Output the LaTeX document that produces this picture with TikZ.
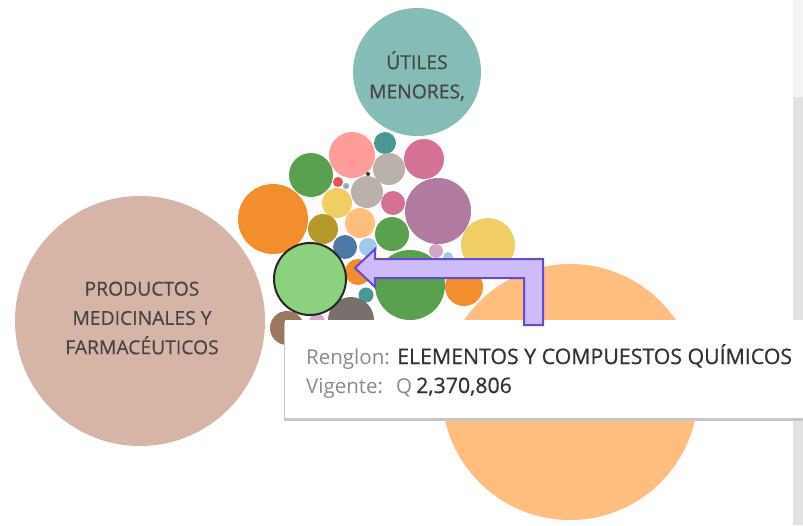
\documentclass[tikz,border=0pt]{standalone}
\usepackage{fontspec}
\setmainfont{Open Sans}
\newfontfamily\semib[FakeBold=0.7]{Open Sans}
\newfontfamily\lblfont[FakeBold=0.4]{Open Sans}
\begin{document}
\begin{tikzpicture}[x=1pt,y=-1pt,
  bub/.style={circle,inner sep=0pt,draw=none,minimum size=#1},
  lbltxt/.style={text=labelgrey,align=center,inner sep=0pt,font=\lblfont\fontsize{19.3}{29.3}\selectfont},
  tipkey/.style={text=keygrey,font=\fontsize{20.5}{24}\selectfont,inner sep=0pt,anchor=base west},
  tipval/.style={text=valdark,font=\semib\fontsize{21.3}{24}\selectfont,inner sep=0pt,anchor=base west},
  arrowshape/.style={fill=arrowfill,draw=arrowline,line width=2pt,line join=miter}]
\definecolor{labelgrey}{HTML}{454545}
\definecolor{keygrey}{HTML}{8A8A8A}
\definecolor{valdark}{HTML}{333333}
\definecolor{arrowfill}{HTML}{CDBBFA}
\definecolor{arrowline}{HTML}{6548D4}
\definecolor{cLtTeal}{HTML}{86BCB6}
\definecolor{cLtBrown}{HTML}{D7B5A6}
\definecolor{cLtOrange}{HTML}{FFBE7D}
\definecolor{cLtGreen}{HTML}{8CD17D}
\definecolor{cGreen}{HTML}{59A14F}
\definecolor{cOrange}{HTML}{F28E2B}
\definecolor{cPink}{HTML}{FF9D9A}
\definecolor{cTeal}{HTML}{499894}
\definecolor{cMagenta}{HTML}{D37295}
\definecolor{cGrey}{HTML}{BAB0AC}
\definecolor{cRed}{HTML}{E15759}
\definecolor{cPurple}{HTML}{B07AA1}
\definecolor{cYellow}{HTML}{F1CE63}
\definecolor{cOlive}{HTML}{B6992D}
\definecolor{cBlue}{HTML}{4E79A7}
\definecolor{cLtBlue}{HTML}{A0CBE8}
\definecolor{cLtPurple}{HTML}{D4A6C8}
\definecolor{cBrown}{HTML}{9D7660}
\definecolor{cDkGrey}{HTML}{79706E}
\definecolor{stripTop}{HTML}{F4F4F4}
\definecolor{stripLow}{HTML}{E2E2E2}
\definecolor{shadowc}{HTML}{C6C6C6}
\useasboundingbox (0,0) rectangle (803,525);
\fill[white] (0,0) rectangle (803,525);
% right strip
\fill[stripTop] (793,0) rectangle (803,97);
\fill[stripLow] (793,97) rectangle (803,525);
% large bubbles
\node[bub=256pt,fill=cLtOrange] (bigorange) at (570,392) {};
\node[bub=250pt,fill=cLtBrown] (prod) at (140,321) {};
\node[lbltxt] (prodlbl) at (142,318) {PRODUCTOS\\MEDICINALES Y\\FARMACÉUTICOS};
\node[bub=128pt,fill=cLtTeal] (utiles) at (417,72) {};
\node[lbltxt] (utileslbl) at (417,76) {ÚTILES\\MENORES,};
% cluster
\node[bub=46pt,fill=cPink] (b1) at (352,155) {};
\node[bub=22pt,fill=cTeal] (b2) at (385,143) {};
\node[bub=40pt,fill=cMagenta] (b3) at (424,159) {};
\node[bub=44pt,fill=cGreen] (b4) at (311,175) {};
\node[bub=32pt,fill=cGrey] (b5) at (389,169) {};
\node[bub=4pt,fill=valdark] (b6) at (368,174) {};
\node[bub=10pt,fill=cRed] (b7) at (338,182) {};
\node[bub=6pt,fill=cTeal!70] (b8) at (346,186) {};
\node[bub=32pt,fill=cGrey] (b9) at (367,192) {};
\node[bub=66pt,fill=cPurple] (b10) at (438,211) {};
\node[bub=24pt,fill=cMagenta] (b11) at (393,203) {};
\node[bub=70pt,fill=cOrange] (b12) at (273,219) {};
\node[bub=30pt,fill=cYellow] (b13) at (337,203) {};
\node[bub=30pt,fill=cLtOrange] (b14) at (360,223) {};
\node[bub=30pt,fill=cOlive] (b15) at (323,229) {};
\node[bub=34pt,fill=cGreen] (b16) at (392,234) {};
\node[bub=54pt,fill=cYellow] (b17) at (488,245) {};
\node[bub=24pt,fill=cBlue] (b18) at (345,247) {};
\node[bub=18pt,fill=cLtBlue] (b19) at (368,247) {};
\node[bub=14pt,fill=cLtPurple] (b20) at (436,251) {};
\node[bub=10pt,fill=cLtBlue] (b21) at (448,257) {};
\node[bub=26pt,fill=cOrange] (b23) at (358,272) {};
\node[bub=70pt,fill=cGreen] (b24) at (410,285) {};
\node[bub=38pt,fill=cOrange] (b25) at (464,287) {};
\node[bub=15pt,fill=cTeal] (b26) at (366,295) {};
\node[bub=46pt,fill=cDkGrey] (b27) at (351,320) {};
\node[bub=34pt,fill=cBrown] (b28) at (287,328) {};
\node[bub=16pt,fill=cLtPurple] (b29) at (317,322) {};
\node[bub=72pt,fill=cLtGreen,draw=black!85,line width=2pt] (sel) at (310,279) {};
% tooltip
\fill[shadowc] (284,322) rectangle (803,421);
\node[fill=white,inner sep=0pt,minimum width=518pt,minimum height=98pt,anchor=north west] (tip) at (285,320) {};
\node[tipkey] (k1) at (306,364) {Renglon:};
\node[tipval] (v1) at (397,364) {ELEMENTOS Y COMPUESTOS QUÍMICOS};
\node[tipkey] (k2) at (306,393) {Vigente:};
\node[tipkey] (q) at (396,393) {Q};
\node[tipval] (v2) at (416,393) {2,370,806};
% arrow
\coordinate (atip) at (355,268);
\draw[arrowshape] (atip) -- (375,249) -- (375,259) -- (543,259) -- (543,325)
  -- (524,325) -- (524,278) -- (375,278) -- (375,287) -- cycle;
\end{tikzpicture}
\end{document}
